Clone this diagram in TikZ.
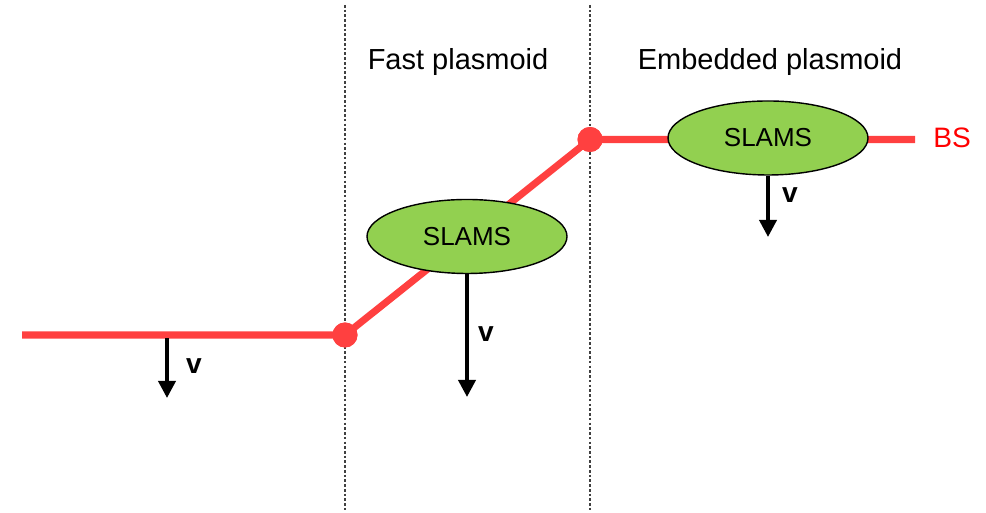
\documentclass[tikz,border=0pt]{standalone}
\usepackage{fontspec}
\setmainfont{Liberation Sans}
\usepackage{xcolor}
\usepackage{tikz}
\usetikzlibrary{shapes,arrows.meta,positioning,calc}

\definecolor{bsred}{HTML}{FF4040}
\definecolor{slamsgreen}{HTML}{92D050}

\tikzset{
    bsline/.style={bsred, line width=4pt},
    bsdot/.style={circle, fill=bsred, inner sep=0pt, minimum size=0.5cm},
    slams/.style={ellipse, draw, thick, fill=slamsgreen, minimum width=4cm, minimum height=1.48cm, inner sep=0pt, font=\fontsize{14.8}{16}\selectfont},
    vel/.style={-{Triangle[length=0.34cm,width=0.34cm]}, line width=2.1pt},
    vlabel/.style={font=\fontsize{16}{18}\selectfont\bfseries},
    region/.style={font=\fontsize{16.5}{18}\selectfont},
    divider/.style={black!75, line width=0.6pt, dash pattern=on 1.5pt off 1.2pt}
}

\begin{document}
\begin{tikzpicture}
    \useasboundingbox (0,0) rectangle (19.72,10.26);

    % Dividers
    \coordinate (d1top) at (6.9,10.16);
    \coordinate (d1bot) at (6.9,0.06);
    \coordinate (d2top) at (11.8,10.16);
    \coordinate (d2bot) at (11.8,0.06);
    \draw[divider] (d1top) -- (d1bot);
    \draw[divider] (d2top) -- (d2bot);

    \node[region] (fast) at (9.16,9.02) {Fast plasmoid};
    \node[region] (embedded) at (15.4,9.02) {Embedded plasmoid};

    % Bow shock
    \coordinate (bsstart) at (0.44,3.56);
    \coordinate (bsend) at (18.3,7.47);
    \node[bsdot] (kink1) at (6.9,3.56) {};
    \node[bsdot] (kink2) at (11.8,7.47) {};
    \draw[bsline] (bsstart) -- (kink1.center) -- (kink2.center) -- (bsend);
    \node[red, font=\fontsize{16}{18}\selectfont] (bs) at (19.04,7.5) {BS};
    \node[bsdot] at (kink1) {};
    \node[bsdot] at (kink2) {};

    % SLAMS
    \node[slams] (slams1) at (9.34,5.53) {SLAMS};
    \node[slams] (slams2) at (15.36,7.5) {SLAMS};

    % Velocities
    \coordinate (v0top) at (3.34,3.5);
    \coordinate (v0tip) at (3.34,2.3);
    \coordinate (v1tip) at (9.34,2.32);
    \coordinate (v2tip) at (15.36,5.52);
    \draw[vel] (v0top) -- (v0tip);
    \draw[vel] (slams1.south) -- (v1tip);
    \draw[vel] (slams2.south) -- (v2tip);
    \node[vlabel] (v0) at (3.88,2.94) {v};
    \node[vlabel] (v1) at (9.72,3.58) {v};
    \node[vlabel] (v2) at (15.8,6.36) {v};

\end{tikzpicture}
\end{document}
